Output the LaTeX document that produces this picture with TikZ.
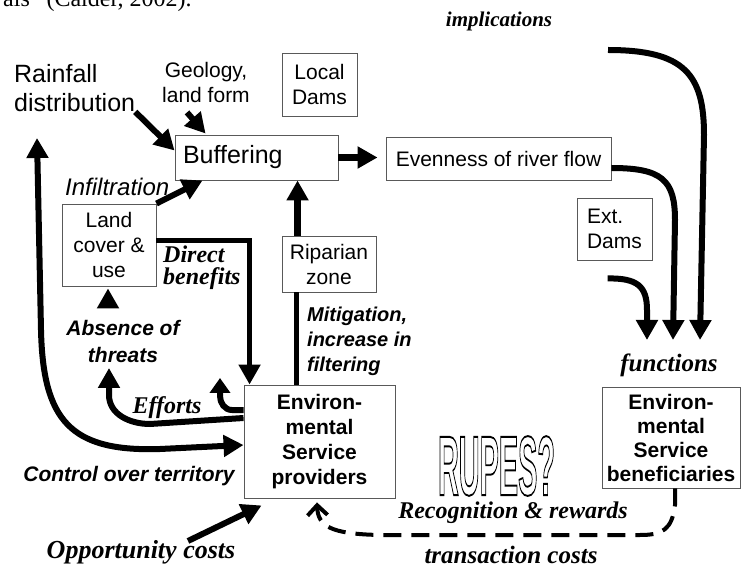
\documentclass[tikz,border=0pt]{standalone}
\usepackage{fontspec}
\setmainfont{Liberation Sans}
\newfontfamily\tms{Liberation Serif}
\usepackage{graphicx}
\usetikzlibrary{arrows.meta,calc}
\begin{document}
\begin{tikzpicture}[x=1pt,y=-1pt,
  box/.style={draw=black!65,line width=0.9pt,inner sep=0pt,align=center,font=\fontsize{21}{25}\selectfont},
  lbl/.style={inner sep=0pt},
  arr/.style={line width=6pt,-{Triangle[length=20pt,width=21pt]}},
  tbi/.style={font=\tms\bfseries\itshape\fontsize{#1}{#1}\selectfont},
  sbi/.style={font=\bfseries\itshape\fontsize{#1}{#1}\selectfont}
]
\useasboundingbox (0,0) rectangle (742,569);
\clip (0,0) rectangle (742,569);

% clipped caption line at the very top
\node[lbl,anchor=base west,font=\tms\fontsize{24}{26}\selectfont] (cite) at (3,7) {als” (Calder, 2002).};

% boxes
\node[box,minimum width=75pt,minimum height=63pt] (ldam) at (319.5,84.5) {Local\\Dams};
\node[box,minimum width=163pt,minimum height=45pt,font=\fontsize{25}{29}\selectfont,text width=147pt,align=left] (buf) at (256.5,157.5) {Buffering};
\node[box,minimum width=225pt,minimum height=43pt] (even) at (498.5,158.5) {Evenness of river flow};
\node[box,minimum width=94pt,minimum height=82pt] (land) at (109,245) {Land\\cover \&\\use};
\node[box,minimum width=94pt,minimum height=56pt] (rip) at (329,264) {Riparian\\zone};
\node[box,minimum width=75pt,minimum height=62pt,align=left] (edam) at (614.5,229) {Ext.\\Dams};
\node[box,minimum width=151pt,minimum height=113pt,font=\bfseries\fontsize{21}{25}\selectfont] (prov) at (319.5,441.5) {Environ-\\mental\\Service\\providers};
\node[box,minimum width=138pt,minimum height=101pt,font=\bfseries\fontsize{21}{24}\selectfont] (benef) at (671,437.5) {Environ-\\mental\\Service\\beneficiaries};

% plain labels
\node[lbl,anchor=west,align=left,font=\fontsize{25}{29}\selectfont] (rain) at (14,88) {Rainfall\\distribution};
\node[lbl,align=center,font=\fontsize{21}{25}\selectfont] (geo) at (206,82) {Geology,\\land form};
\node[lbl,tbi=21] (impl) at (499,21) {implications};
\node[lbl,tbi=25] (func) at (669,365) {functions};
\node[lbl,anchor=west,font=\itshape\fontsize{24}{28}\selectfont] (infil) at (65,187) {Infiltration};
\node[lbl,anchor=west,align=left,font=\tms\bfseries\itshape\fontsize{24}{22}\selectfont] (direct) at (163,268) {Direct\\benefits};
\node[lbl,align=center,font=\bfseries\itshape\fontsize{21}{27}\selectfont] (absence) at (123,341) {Absence of\\threats};
\node[lbl,anchor=west,align=left,font=\bfseries\itshape\fontsize{20}{25}\selectfont] (mitig) at (307,341) {Mitigation,\\increase in\\filtering};
\node[lbl,tbi=24] (effort) at (167,408) {Efforts};
\node[lbl,sbi=21] (control) at (129,476) {Control over territory};
\node[lbl,tbi=26] (opp) at (141,552) {Opportunity costs};
\node[lbl,tbi=24] (recog) at (513,513) {Recognition \& rewards};
\node[lbl,tbi=25] (trans) at (511,555) {transaction costs};
\node[lbl] (rupes) at (496.5,466) {\resizebox{117pt}{59pt}{\fontsize{48}{48}\selectfont\bfseries\special{pdf:literal direct 1 Tr 1.1 w}RUPES?\special{pdf:literal direct 0 Tr}}};

% free ends
\coordinate (implS) at (608,50);
\coordinate (rainTip) at (37,138);
\coordinate (effTip) at (109,368);
\coordinate (effTip2) at (220,378);

% connectors
\draw[arr] (rain.south east) -- ([yshift=7pt]buf.west);
\draw[arr] ($(geo.south)+(-19,10)$) -- ($(buf.north west)+(31,-1)$);
\draw[arr,line width=7pt,shorten >=8pt] (buf.east) -- (buf.east -| even.west);
\draw[arr] (land.north east) -- ($(buf.south west)+(28,0)$);
\draw[arr,line width=7pt] ($(rip.north west)+(16,0)$) -- ($(buf.south west)+(123,0)$);
\draw[line width=5pt] ($(prov.north west)+(53,0)$) -- ($(rip.south west)+(15,0)$);
\draw[arr,line width=5pt] ([yshift=4pt]land.east) -| ($(prov.north west)+(6,0)$);
\draw[arr] ($(absence.north)+(-15,-12)$) -- ($(land.south)+(-1,2)$);

\draw[arr] ($(prov.west)+(0,-23.5)$) -- (150,424) to[out=180,in=-90] (109,395) -- (effTip);
\draw[line width=6pt,-{Triangle[length=15pt,width=20pt]}] ($(prov.west)+(0,-31.5)$) -- (232,410) to[out=180,in=-90] (220,396) -- (effTip2);
\draw[line width=6pt,{Triangle[length=20pt,width=21pt]}-{Triangle[length=20pt,width=21pt]}]
  ($(prov.west)+(0,3.5)$) -- (160,449) .. controls (70,452) and (43,420) .. (41,330) -- (rainTip);
\draw[arr] ($(opp.north)+(47,1)$) -- ($(prov.south west)+(18,7)$);

\draw[arr] (implS) .. controls (685,50) and (704,75) .. (704,135) -- (700,340);
\draw[arr] ($(even.east)+(0,9.5)$) .. controls (662,168) and (675,180) .. (675,220) -- (673,340);
\draw[arr] ($(edam.south west)+(31,18)$) .. controls (637,278) and (647,286) .. (647,310) -- (647,340);

\draw[line width=4pt,dash pattern=on 18pt off 10pt,-{Straight Barb[length=10pt,width=20pt]}]
  ($(benef.south)+(4,0)$) -- (675,505) .. controls (672,530) and (662,535) .. (640,535) -- (380,535)
  .. controls (330,534) and (318,526) .. ($(prov.south)+(-2.5,4)$);
\end{tikzpicture}
\end{document}
